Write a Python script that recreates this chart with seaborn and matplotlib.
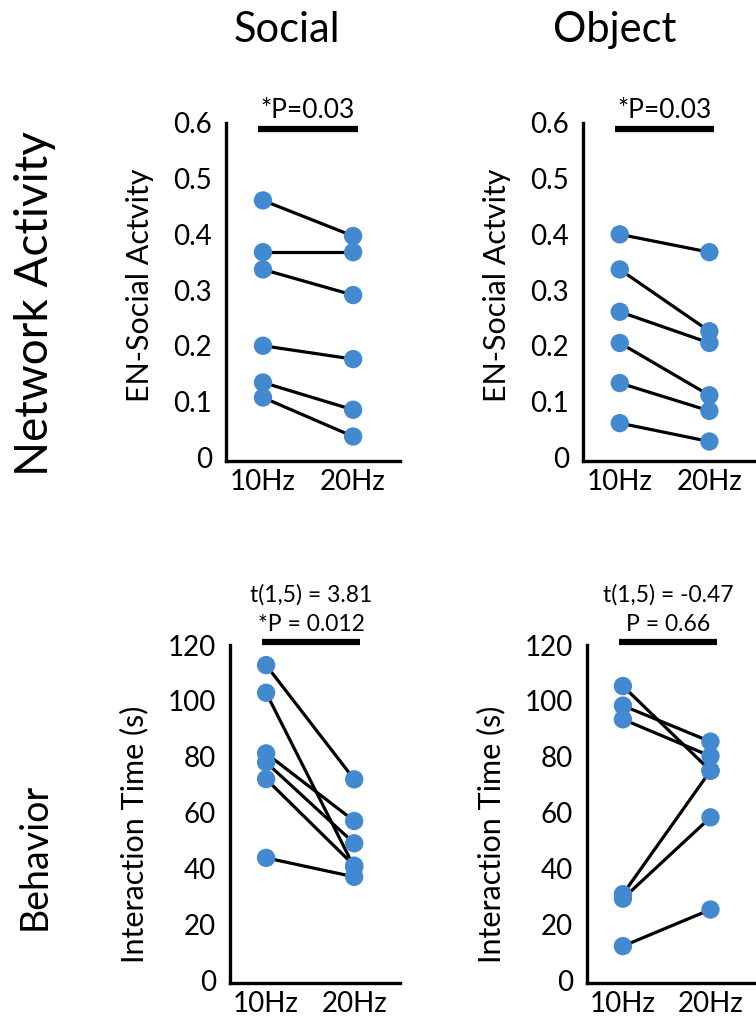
import pandas as pd
import matplotlib.pyplot as plt
import seaborn as sns

# Data (one value per subject, paired 10Hz -> 20Hz)
freqs = ['10Hz', '20Hz']

social_net_10 = [0.461, 0.368, 0.337, 0.200, 0.134, 0.107]
social_net_20 = [0.397, 0.368, 0.291, 0.176, 0.085, 0.037]

object_net_10 = [0.400, 0.337, 0.261, 0.205, 0.133, 0.061]
object_net_20 = [0.368, 0.226, 0.205, 0.111, 0.083, 0.028]

social_beh_10 = [112.8, 102.9, 81.2, 78.0, 72.0, 43.8]
social_beh_20 = [71.9, 40.5, 57.0, 49.0, 41.0, 37.0]

object_beh_10 = [105.3, 98.3, 93.4, 30.8, 29.2, 12.2]
object_beh_20 = [75.0, 85.4, 80.2, 75.0, 58.3, 25.3]

net_ticks = [0, 0.1, 0.2, 0.3, 0.4, 0.5, 0.6]
net_ticklabels = ['0', '0.1', '0.2', '0.3', '0.4', '0.5', '0.6']
beh_ticks = [0, 20, 40, 60, 80, 100, 120]

col_titles = ['Social', 'Object']
row_titles = ['Network Activity', 'Behavior']
net_ylabel = 'EN-Social Actvity'
beh_ylabel = 'Interaction Time (s)'
net_stats = ['*P=0.03', '*P=0.03']
beh_stats = ['t(1,5) = 3.81\n*P = 0.012', 't(1,5) = -0.47\nP = 0.66']

DOT = '#4389d0'

sns.set_theme(style='white')
plt.rcParams['font.family'] = ['Lato', 'DejaVu Sans']
plt.rcParams['text.color'] = 'black'
plt.rcParams['axes.labelcolor'] = 'black'


def to_long(v10, v20):
    rows = []
    for i, (a, b) in enumerate(zip(v10, v20)):
        rows.append({'subject': i, 'freq': freqs[0], 'value': a})
        rows.append({'subject': i, 'freq': freqs[1], 'value': b})
    return pd.DataFrame(rows)


fig = plt.figure(figsize=(7.56, 10.21), dpi=100)

W, H = 756, 1021


def make_ax(left, right, top, bottom):
    return fig.add_axes([left / W, 1 - bottom / H, (right - left) / W, (bottom - top) / H])


panels = [
    (make_ax(226, 400, 123, 461), to_long(social_net_10, social_net_20), 'net', 0),
    (make_ax(583, 756, 123, 461), to_long(object_net_10, object_net_20), 'net', 1),
    (make_ax(230, 400, 645, 983), to_long(social_beh_10, social_beh_20), 'beh', 0),
    (make_ax(587, 756, 645, 983), to_long(object_beh_10, object_beh_20), 'beh', 1),
]

for ax, df, kind, col in panels:
    sns.lineplot(data=df, x='freq', y='value', units='subject', estimator=None,
                 color='black', linewidth=2.3, ax=ax, legend=False)
    sns.scatterplot(data=df, x='freq', y='value', color=DOT, s=175,
                    edgecolor='none', ax=ax, zorder=3, legend=False)

    ax.set_xlim(-0.41, 1.52)
    for side in ['top', 'right']:
        ax.spines[side].set_visible(False)
    for side in ['left', 'bottom']:
        ax.spines[side].set_linewidth(2.4)
        ax.spines[side].set_color('black')
    ax.tick_params(axis='both', length=0, labelsize=20, colors='black')
    ax.tick_params(axis='y', pad=10)
    ax.tick_params(axis='x', pad=6)
    ax.set_xlabel('')

    if kind == 'net':
        ax.set_ylim(-0.007, 0.6)
        ax.set_yticks(net_ticks)
        ax.set_yticklabels(net_ticklabels)
        ax.set_ylabel(net_ylabel, fontsize=22, labelpad=14)
        ax.yaxis.label.set_y(0.52)
        ax.plot([-0.055, 1.055], [0.59, 0.59], color='black', lw=4.5,
                solid_capstyle='butt', clip_on=False)
        ax.text(0.5, 0.600, net_stats[col], ha='center', va='bottom',
                fontsize=19)
    else:
        ax.set_ylim(-1, 120)
        ax.set_yticks(beh_ticks)
        ax.set_ylabel(beh_ylabel, fontsize=22, labelpad=14)
        ax.yaxis.label.set_y(0.44)
        ax.plot([-0.044, 1.07], [121, 121], color='black', lw=4.5,
                solid_capstyle='butt', clip_on=False)
        ax.text(0.513, 123.5, beh_stats[col], ha='center', va='bottom',
                fontsize=16.5, linespacing=1.5)

fig.text(287 / W, 1 - 30 / H, col_titles[0], ha='center', va='center', fontsize=30)
fig.text(615 / W, 1 - 30 / H, col_titles[1], ha='center', va='center', fontsize=30)
fig.text(35 / W, 1 - 304 / H, row_titles[0], ha='center', va='center',
         fontsize=33, rotation=90)
fig.text(35 / W, 1 - 856 / H, row_titles[1], ha='center', va='center',
         fontsize=27, rotation=90)

fig.savefig('out.png', dpi=100)
